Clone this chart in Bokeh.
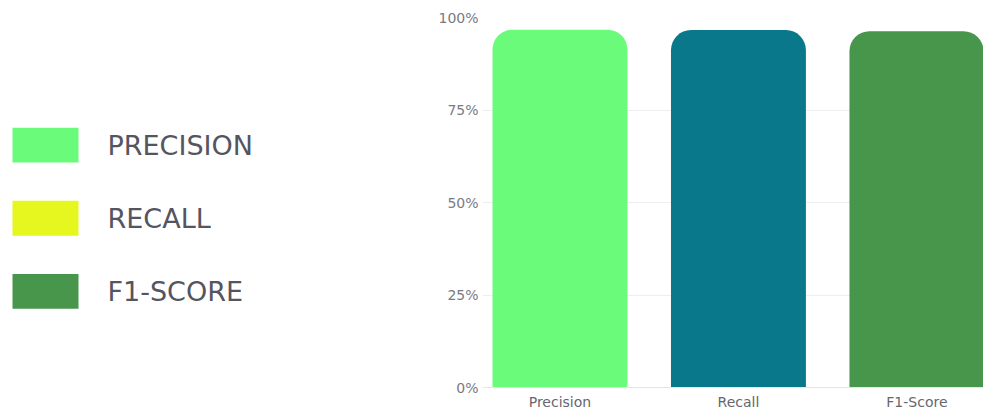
from bokeh.plotting import figure
from bokeh.layouts import row
from bokeh.models import Range1d, FixedTicker
from bokeh.embed import file_html
from bokeh.resources import INLINE
from bokeh.core.properties import value

# ---- data ----
categories = ["Precision", "Recall", "F1-Score"]
scores = [96.7, 96.6, 96.3]
bar_colors = ["#6bfb7a", "#08788a", "#48964b"]
legend_labels = ["PRECISION", "RECALL", "F1-SCORE"]
legend_colors = ["#6bfb7a", "#e5f71e", "#48964b"]
y_ticks = [0, 25, 50, 75, 100]
y_tick_labels = ["0%", "25%", "50%", "75%", "100%"]

FONT = value("DejaVu Sans")

# ---- right: bar chart ----
p = figure(width=583, height=412, x_range=Range1d(-0.434, 2.373), y_range=Range1d(0, 100),
           output_backend="svg", toolbar_location=None,
           min_border_left=82, min_border_right=0, min_border_top=17, min_border_bottom=24)
p.outline_line_color = None
xs = list(range(len(categories)))
p.vbar(x=xs, top=scores, width=0.756, fill_color=bar_colors, line_color=None,
       border_radius=(20, 20, 0, 0))

p.xgrid.visible = False
p.ygrid.grid_line_color = "#eeeeee"
p.ygrid.ticker = FixedTicker(ticks=y_ticks)

p.yaxis.ticker = FixedTicker(ticks=y_ticks)
p.yaxis.major_label_overrides = {t: l for t, l in zip(y_ticks, y_tick_labels)}
p.yaxis.axis_line_color = None
p.yaxis.major_tick_line_color = None
p.yaxis.minor_tick_line_color = None
p.yaxis.major_tick_out = 0
p.yaxis.major_tick_in = 0
p.yaxis.major_label_standoff = 4
p.yaxis.major_label_text_font_size = "14px"
p.yaxis.major_label_text_color = "#7a7a85"
p.yaxis.major_label_text_font = "DejaVu Sans"

p.xaxis.ticker = FixedTicker(ticks=xs)
p.xaxis.major_label_overrides = {i: c for i, c in zip(xs, categories)}
p.xaxis.axis_line_color = "#e6e6e6"
p.xaxis.major_tick_line_color = None
p.xaxis.minor_tick_line_color = None
p.xaxis.major_tick_out = 0
p.xaxis.major_tick_in = 0
p.xaxis.major_label_standoff = 6
p.xaxis.major_label_text_font_size = "14px"
p.xaxis.major_label_text_color = "#66666f"
p.xaxis.major_label_text_font = "DejaVu Sans"

# ---- left: legend panel (frame is aligned with the chart frame: y 17..388) ----
lf = figure(width=400, height=412, x_range=Range1d(0, 400), y_range=Range1d(388, 17),
            x_axis_type=None, y_axis_type=None, output_backend="svg",
            toolbar_location=None, min_border=0,
            min_border_top=17, min_border_bottom=24)
lf.grid.visible = False
lf.outline_line_color = None
n = len(legend_labels)
ys = [145 + i * 73.3 for i in range(n)]
lf.rect(x=[45] * n, y=ys, width=66, height=35, fill_color=legend_colors, line_color=None)
lf.text(x=[107] * n, y=ys, text=legend_labels, text_baseline="middle", text_align="left",
        text_font_size="27px", text_color="#55555f", text_font=FONT)

layout = row(lf, p)
open("out.html", "w").write(file_html(layout, INLINE))
